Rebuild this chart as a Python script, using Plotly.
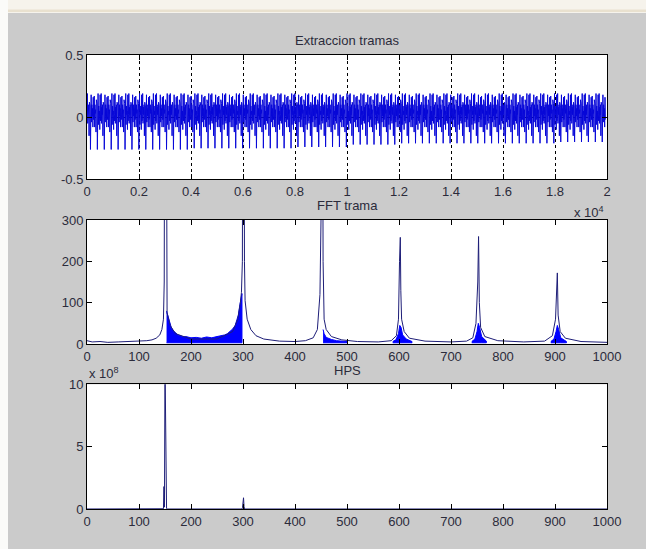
import numpy as np
import plotly.graph_objects as go
from plotly.subplots import make_subplots

# ---------------- data ----------------
# Frame extraction: two consecutive pitch periods of the voiced waveform (sub-sample amplitudes)
cycle_shape_a = [0.02, 0.19, -0.05, 0.08, 0.02, 0.10, -0.15, 0.12, 0.04, 0.09,
                 -0.25, 0.06, 0.18, -0.04, 0.10, 0.01, 0.07, -0.08, 0.16, -0.02]
cycle_shape_b = [0.00, 0.17, -0.08, 0.10, 0.03, 0.06, -0.12, 0.14, 0.02, 0.11,
                 -0.24, 0.04, 0.19, -0.06, 0.09, 0.02, 0.05, -0.10, 0.18, -0.03]
cycle_len_samples = 266          # samples per pitch period
n_cycles = 75                    # periods in the 20000-sample frame
# depth of the deepest negative spike, for each tenth of the frame
neg_spike_by_tenth = [-0.26, -0.26, -0.25, -0.25, -0.24, -0.22, -0.21, -0.21, -0.21, -0.20]

# FFT magnitude of the frame (frequency bin, magnitude)
fft_freq = [0, 10, 25, 40, 60, 80, 100, 115, 125, 133, 140, 144, 147, 148.5, 150.6, 152.7, 154,
            160, 170, 200, 250, 280, 290, 295, 297, 298.8, 300.8, 302.8, 304, 308, 315, 325, 340,
            370, 400, 420, 435, 443, 448, 450, 452, 454, 456, 460, 470, 490, 520, 560, 585, 595,
            599, 601, 602.5, 603.5, 605, 610, 620, 650, 700, 730, 742, 748, 751.5, 753, 754.5,
            757, 765, 790, 840, 880, 895, 901, 903.5, 904.5, 906, 910, 920, 950, 1000]
fft_mag = [8, 5, 6, 4, 5, 6, 6, 8, 10, 14, 22, 35, 60, 150, 1500, 150, 75,
           45, 25, 12, 12, 30, 60, 100, 125, 200, 1500, 200, 105, 60, 35, 20, 12,
           7, 6, 8, 15, 35, 120, 300, 1500, 200, 60, 35, 18, 10, 6, 5, 8, 20,
           60, 200, 258, 130, 60, 30, 14, 7, 5, 7, 15, 50, 150, 260, 100,
           40, 18, 8, 5, 7, 20, 60, 140, 172, 70, 30, 14, 6, 4]

# Dense leakage bands (upper envelope) between harmonics
band1_freq = [153, 155, 158, 162, 166, 170, 175, 180, 185, 190, 200, 210, 220, 230, 240,
              250, 260, 265, 270, 275, 280, 285, 288, 291, 294, 296, 298]
band1_upper = [80, 70, 55, 40, 32, 28, 22, 20, 17, 18, 15, 16, 14, 17, 15,
               18, 20, 22, 25, 30, 36, 45, 55, 70, 95, 115, 122]
band2_freq = [454, 456, 460, 470, 480, 500]
band2_upper = [35, 25, 16, 11, 8, 6]
band3_freq = [588, 594, 599, 601.5, 604, 607, 614, 625]
band3_upper = [6, 10, 25, 45, 40, 22, 12, 6]
band4_freq = [740, 746, 750, 752.5, 755, 759, 768]
band4_upper = [6, 12, 30, 50, 40, 18, 7]
band5_freq = [892, 898, 902, 904.5, 907, 911, 922]
band5_upper = [6, 12, 30, 45, 35, 15, 6]
band_floor = 3

# Harmonic product spectrum
hps_freq = [0, 146, 147, 148, 149, 150, 151, 152, 153, 154, 298, 299, 300, 301, 302, 303, 1000]
hps_val = [0, 0, 0.02e8, 1.8e8, 0.15e8, 12.0e8, 5.7e8, 0.3e8, 0.05e8, 0, 0, 0.1e8, 0.4e8, 0.9e8,
           0.2e8, 0, 0]

# Axis tick labels
x1_tickvals = list(range(0, 20001, 2000))
x1_ticktext = ["0", "0.2", "0.4", "0.6", "0.8", "1", "1.2", "1.4", "1.6", "1.8", "2"]
y1_tickvals = [-0.5, 0, 0.5]
y1_ticktext = ["-0.5", "0", "0.5"]
hps_tickvals = [0, 5e8, 10e8]
hps_ticktext = ["0", "5", "10"]

# ---------------- build waveform ----------------
wave_x, wave_y = [], []
for c in range(n_cycles):
    shape = cycle_shape_a if c % 2 == 0 else cycle_shape_b
    tenth = min(int(c * 10 / n_cycles), 9)
    lowest = min(shape)
    for j, v in enumerate(shape):
        wave_x.append((c + j / len(shape)) * cycle_len_samples)
        wave_y.append(neg_spike_by_tenth[tenth] if v == lowest else v)

# ---------------- figure ----------------
FONT = dict(family="Liberation Sans, Arial, sans-serif", size=13, color="#2b2b3b")
W, H = 646, 549
L, R, T, B = 87, 39, 55, 40
PW, PH = W - L - R, H - T - B


def px_x(px):
    return (px - L) / PW


def px_y(py):
    return (H - B - py) / PH


fig = make_subplots(rows=3, cols=1)

fig.add_trace(go.Scatter(x=wave_x, y=wave_y, mode="lines",
                         line=dict(color="#0808d8", width=1), hoverinfo="skip"), row=1, col=1)

for bf, bu in [(band1_freq, band1_upper), (band2_freq, band2_upper), (band3_freq, band3_upper),
               (band4_freq, band4_upper), (band5_freq, band5_upper)]:
    fig.add_trace(go.Scatter(x=bf + bf[::-1], y=bu + [band_floor] * len(bf), mode="lines",
                             fill="toself", fillcolor="#0000ff",
                             line=dict(color="#0000ff", width=1), hoverinfo="skip"), row=2, col=1)

fig.add_trace(go.Scatter(x=fft_freq, y=fft_mag, mode="lines",
                         line=dict(color="#1e1e78", width=1), hoverinfo="skip"), row=2, col=1)

fig.add_trace(go.Scatter(x=hps_freq, y=hps_val, mode="lines",
                         line=dict(color="#1e1e78", width=1), hoverinfo="skip"), row=3, col=1)

axis_common = dict(showline=True, linecolor="black", linewidth=1, mirror="ticks",
                   ticks="inside", ticklen=5, tickcolor="black", tickwidth=1,
                   zeroline=False, showgrid=False, tickfont=FONT)

fig.update_xaxes(**axis_common)
fig.update_yaxes(**axis_common)

grid = dict(showgrid=True, gridcolor="black", gridwidth=1, griddash="3px,3px")

fig.update_layout(
    xaxis=dict(range=[0, 20000], tickvals=x1_tickvals, ticktext=x1_ticktext, domain=[0, 1], **grid),
    yaxis=dict(range=[-0.5, 0.5], tickvals=y1_tickvals, ticktext=y1_ticktext,
               domain=[px_y(179.3), 1.0], **grid),
    xaxis2=dict(range=[0, 1000], dtick=100, tick0=0, domain=[0, 1]),
    yaxis2=dict(range=[0, 300], dtick=100, tick0=0, domain=[px_y(344), px_y(220)]),
    xaxis3=dict(range=[0, 1000], dtick=100, tick0=0, domain=[0, 1]),
    yaxis3=dict(range=[0, 10e8], tickvals=hps_tickvals, ticktext=hps_ticktext,
                domain=[0, px_y(384.3)]),
)

annotations = [
    dict(text="Extraccion tramas", x=0.5, y=px_y(41), xanchor="center", yanchor="middle"),
    dict(text="FFT trama", x=0.5, y=px_y(205), xanchor="center", yanchor="middle"),
    dict(text="HPS", x=0.5, y=px_y(370), xanchor="center", yanchor="middle"),
    dict(text="x 10<sup>4</sup>", x=px_x(606), y=px_y(212), xanchor="right", yanchor="middle"),
    dict(text="x 10<sup>8</sup>", x=px_x(87), y=px_y(373), xanchor="left", yanchor="middle"),
]
for a in annotations:
    a.update(xref="paper", yref="paper", showarrow=False, font=FONT)

# window frame strips around the grey figure area
shapes = [
    dict(type="rect", xref="paper", yref="paper", x0=px_x(0), x1=px_x(W), y0=px_y(13), y1=px_y(0),
         fillcolor="#f6f3ec", line=dict(width=0), layer="above"),
    dict(type="rect", xref="paper", yref="paper", x0=px_x(0), x1=px_x(W), y0=px_y(12), y1=px_y(9.5),
         fillcolor="#e9e1cf", line=dict(width=0), layer="above"),
    dict(type="rect", xref="paper", yref="paper", x0=px_x(0), x1=px_x(8), y0=px_y(H), y1=px_y(0),
         fillcolor="#fbfbf9", line=dict(width=0), layer="above"),
]

fig.update_layout(
    width=W, height=H,
    margin=dict(l=L, r=R, t=T, b=B, pad=0),
    paper_bgcolor="#cbcbcb", plot_bgcolor="white",
    showlegend=False, annotations=annotations, shapes=shapes,
    font=FONT,
)

fig.write_html("out.html", config={"displayModeBar": False})
